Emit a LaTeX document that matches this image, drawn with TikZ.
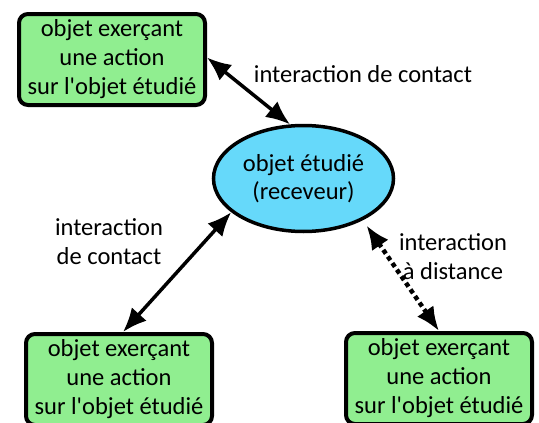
\documentclass[tikz,border=0pt]{standalone}
\usepackage{fontspec}
\setmainfont{Carlito}[Ligatures=TeXOff]
\usetikzlibrary{arrows.meta,shapes.geometric}
\definecolor{boxgreen}{RGB}{144,238,144}
\definecolor{recblue}{RGB}{102,217,250}
\begin{document}
\begin{tikzpicture}[x=1pt,y=-1pt,
  actbox/.style={draw=black, line width=4pt, rounded corners=9pt, fill=boxgreen,
    minimum width=186pt, minimum height=91pt, align=center, inner sep=0pt,
    font=\fontsize{24.5}{29}\selectfont},
  recv/.style={ellipse, draw=black, line width=3.5pt, fill=recblue,
    minimum width=180pt, minimum height=106pt, inner sep=0pt, align=center,
    font=\fontsize{24.5}{28}\selectfont},
  link/.style={line width=3.5pt, {Latex[length=24pt,width=20pt]}-{Latex[length=24pt,width=20pt]}},
  farlink/.style={link, line width=4.5pt, dash pattern=on 4.5pt off 3.5pt},
  lbl/.style={align=center, inner sep=0pt, font=\fontsize{24.5}{29}\selectfont}]
\useasboundingbox (0,0) rectangle (539,423);
\clip (0,0) rectangle (539,423);
\node[actbox] (tl) at (112,59.5) {objet exerçant\\une action\\sur l'objet étudié};
\node[recv] (el) at (303.5,178.5) {objet étudié\\(receveur)};
\node[actbox] (bl) at (119,379.5) {objet exerçant\\une action\\sur l'objet étudié};
\node[actbox] (br) at (439,378.5) {objet exerçant\\une action\\sur l'objet étudié};
\draw[link] ([yshift=2pt]tl.east) -- (el.104);
\draw[link] ([xshift=4pt]bl.north) -- (el.205);
\draw[farlink] ([shift={(6,4)}]el.-37) -- (br.north);
\node[lbl, anchor=base] (l1) at (363,82) {interaction de contact};
\node[lbl] (l2) at (109,241.5) {interaction\\de contact};
\node[lbl] (l3) at (453,257) {interaction\\à distance};
\end{tikzpicture}
\end{document}
